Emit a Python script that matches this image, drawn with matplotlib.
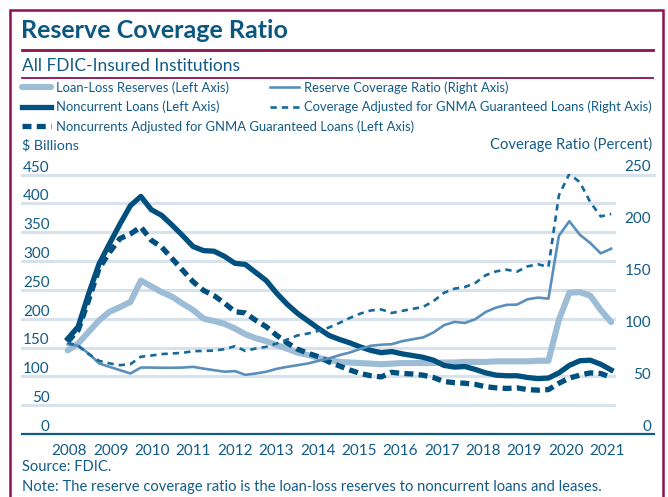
import numpy as np
import matplotlib
matplotlib.use("Agg")
import matplotlib.pyplot as plt
from matplotlib.lines import Line2D
from matplotlib.patches import Rectangle

plt.rcParams['font.family'] = ['Lato', 'DejaVu Sans']

# quarterly, 2008Q2 .. 2021Q2
years = ['2008', '2009', '2010', '2011', '2012', '2013', '2014',
         '2015', '2016', '2017', '2018', '2019', '2020', '2021']

# $ billions (left axis)
reserves = [145, 157, 177, 197, 212, 220, 229, 266, 256, 246, 238, 226, 215, 200,
            196, 191, 183, 173, 166, 161, 154, 148, 141, 137, 132, 128, 125, 124,
            123, 122, 121, 122, 123, 123, 123, 123, 124, 124, 125, 125, 125, 126,
            126, 126, 126, 127, 127, 198, 245, 246, 240, 215, 194]
noncurrent = [165, 186, 243, 295, 330, 364, 396, 412, 389, 379, 362, 344, 325, 318,
              317, 308, 296, 294, 280, 266, 244, 225, 209, 196, 183, 171, 164, 158,
              151, 145, 141, 143, 139, 136, 133, 128, 119, 116, 117, 112, 106, 102,
              101, 101, 98, 96, 97, 106, 119, 127, 128, 121, 111]
noncurrent_adj = [160, 180, 232, 287, 315, 339, 347, 359, 336, 324, 304, 284, 264, 249,
                  240, 227, 212, 210, 197, 186, 171, 158, 147, 140, 134, 125, 118, 111,
                  105, 101, 99, 107, 105, 104, 102, 98, 91, 89, 88, 86, 82, 80,
                  79, 80, 77, 76, 77, 88, 97, 102, 106, 105, 98]

# percent (right axis)
coverage = [86.5, 85, 77.6, 68, 64.7, 61.5, 58.3, 64, 64, 63.8, 63.8, 64, 64.7, 63,
            61.5, 60, 60.6, 57, 58.3, 60, 62.8, 64.7, 66.3, 68, 70.5, 72.8, 76, 78.5,
            82, 85, 86, 86.5, 89.4, 91.3, 93, 97.8, 104.8, 108, 107, 110.6, 117.6, 121.8,
            124.4, 124.7, 129.8, 131.4, 130.4, 191, 205, 192, 184, 174, 178.5]
coverage_adj = [88, 85, 77, 70.5, 68, 66.3, 67.3, 74.4, 75.6, 77, 77.6, 78.2, 79.8, 80,
                80.4, 81.7, 84.6, 80, 82.4, 84, 87.2, 91, 95, 96.8, 99.4, 102.6, 107, 111.8,
                116, 119, 120, 116.6, 118.6, 120.5, 122.4, 128, 136, 140, 141.6, 145.5, 153, 156.7,
                158.3, 156.4, 161.5, 163.5, 161, 230, 250.6, 242.6, 223.4, 209.6, 212]

teal = '#125b86'
dark = '#00507f'
light = '#9dbdd7'
medium = '#5b8fbb'
thin_dash = '#16699a'
grid_c = '#d7e2ec'
maroon = '#8c1152'

W, H = 668, 497


def fx(px):
    return px / W


def fy(py):
    return 1 - py / H


fig = plt.figure(figsize=(W / 100, H / 100), dpi=100)
ax = fig.add_axes([fx(22), fy(434), 632 / W, (434 - 174.5) / H])
ax2 = ax.twinx()

x = np.arange(len(reserves))
ax.set_xlim(-4.373, 56.10)
ax.set_ylim(0, 450)
ax2.set_ylim(0, 250)

for a in (ax, ax2):
    for s in a.spines.values():
        s.set_visible(False)

for v in range(50, 451, 50):
    ax.axhline(v, xmin=0, xmax=1 if v == 450 else 0.937, color=grid_c, lw=2.2,
               zorder=0, clip_on=False)
ax.axhline(0, color=teal, lw=1.6, zorder=5, clip_on=False)

h_res, = ax.plot(x, reserves, color=light, lw=4.4, solid_joinstyle='round',
                 solid_capstyle='round', label='Loan-Loss Reserves (Left Axis)')
h_nc, = ax.plot(x, noncurrent, color=dark, lw=3.8, solid_joinstyle='round',
                label='Noncurrent Loans (Left Axis)')
h_nca, = ax.plot(x, noncurrent_adj, color=dark, lw=3.8, linestyle=(0, (1.7, 1.0)),
                 label='Noncurrents Adjusted for GNMA Guaranteed Loans (Left Axis)')
h_cov, = ax2.plot(x, coverage, color=medium, lw=1.9, solid_joinstyle='round',
                  label='Reserve Coverage Ratio (Right Axis)')
h_cova, = ax2.plot(x, coverage_adj, color=thin_dash, lw=1.9, linestyle=(0, (2.4, 1.9)),
                   label='Coverage Adjusted for GNMA Guaranteed Loans (Right Axis)')

ax.set_xticks(np.arange(len(years)) * 3.957 + 0.17, labels=years)
ax.tick_params(axis='x', length=0, pad=7, labelsize=11, labelcolor=teal)

ax.set_yticks(range(0, 451, 50))
ax.tick_params(axis='y', length=0, pad=-20, labelsize=11, labelcolor=teal)
for lbl in ax.get_yticklabels():
    lbl.set_va('bottom')

ax2.set_yticks(range(0, 251, 50))
ax2.tick_params(axis='y', length=0, pad=-2.2, labelsize=11, labelcolor=teal)
for lbl in ax2.get_yticklabels():
    lbl.set_ha('right')
    lbl.set_va('bottom')

# titles and axis captions
fig.text(fx(21), fy(38), 'Reserve Coverage Ratio', fontsize=18, fontweight='bold',
         color='#0a5782', va='baseline')
fig.text(fx(22), fy(71), 'All FDIC-Insured Institutions', fontsize=12.5,
         color=teal, va='baseline')
fig.text(fx(22), fy(149), r'\$ Billions', fontsize=10.3, color=teal, va='baseline')
fig.text(fx(652), fy(149), 'Coverage Ratio (Percent)', fontsize=10.6, color=teal,
         va='baseline', ha='right')
fig.text(fx(22), fy(471), 'Source: FDIC.', fontsize=10.6, color=teal, va='baseline')
fig.text(fx(22), fy(491),
         'Note: The reserve coverage ratio is the loan-loss reserves to noncurrent loans and leases.',
         fontsize=10.6, color=teal, va='baseline')

leg_kw = dict(loc='upper left', frameon=False, fontsize=9.4, handlelength=2.2,
              handletextpad=0.4, labelspacing=0.55, borderpad=0, borderaxespad=0,
              labelcolor=teal)
fig.legend(handles=[h_res, h_nc, h_nca], bbox_to_anchor=(fx(22), fy(81)), **leg_kw)
fig.legend(handles=[h_cov, h_cova], bbox_to_anchor=(fx(270), fy(81)), **leg_kw)

# frame and rules
fig.add_artist(Rectangle((fx(10), fy(530)), (663 - 10) / W, (530 - 10) / H, fill=False,
                         edgecolor=maroon, lw=1.8, transform=fig.transFigure))
fig.add_artist(Line2D([fx(22), fx(653)], [fy(49.5)] * 2, color=maroon, lw=2,
                      transform=fig.transFigure))
fig.add_artist(Line2D([fx(22), fx(653)], [fy(78)] * 2, color=maroon, lw=1.3,
                      transform=fig.transFigure))

fig.savefig('out.png', dpi=100)
